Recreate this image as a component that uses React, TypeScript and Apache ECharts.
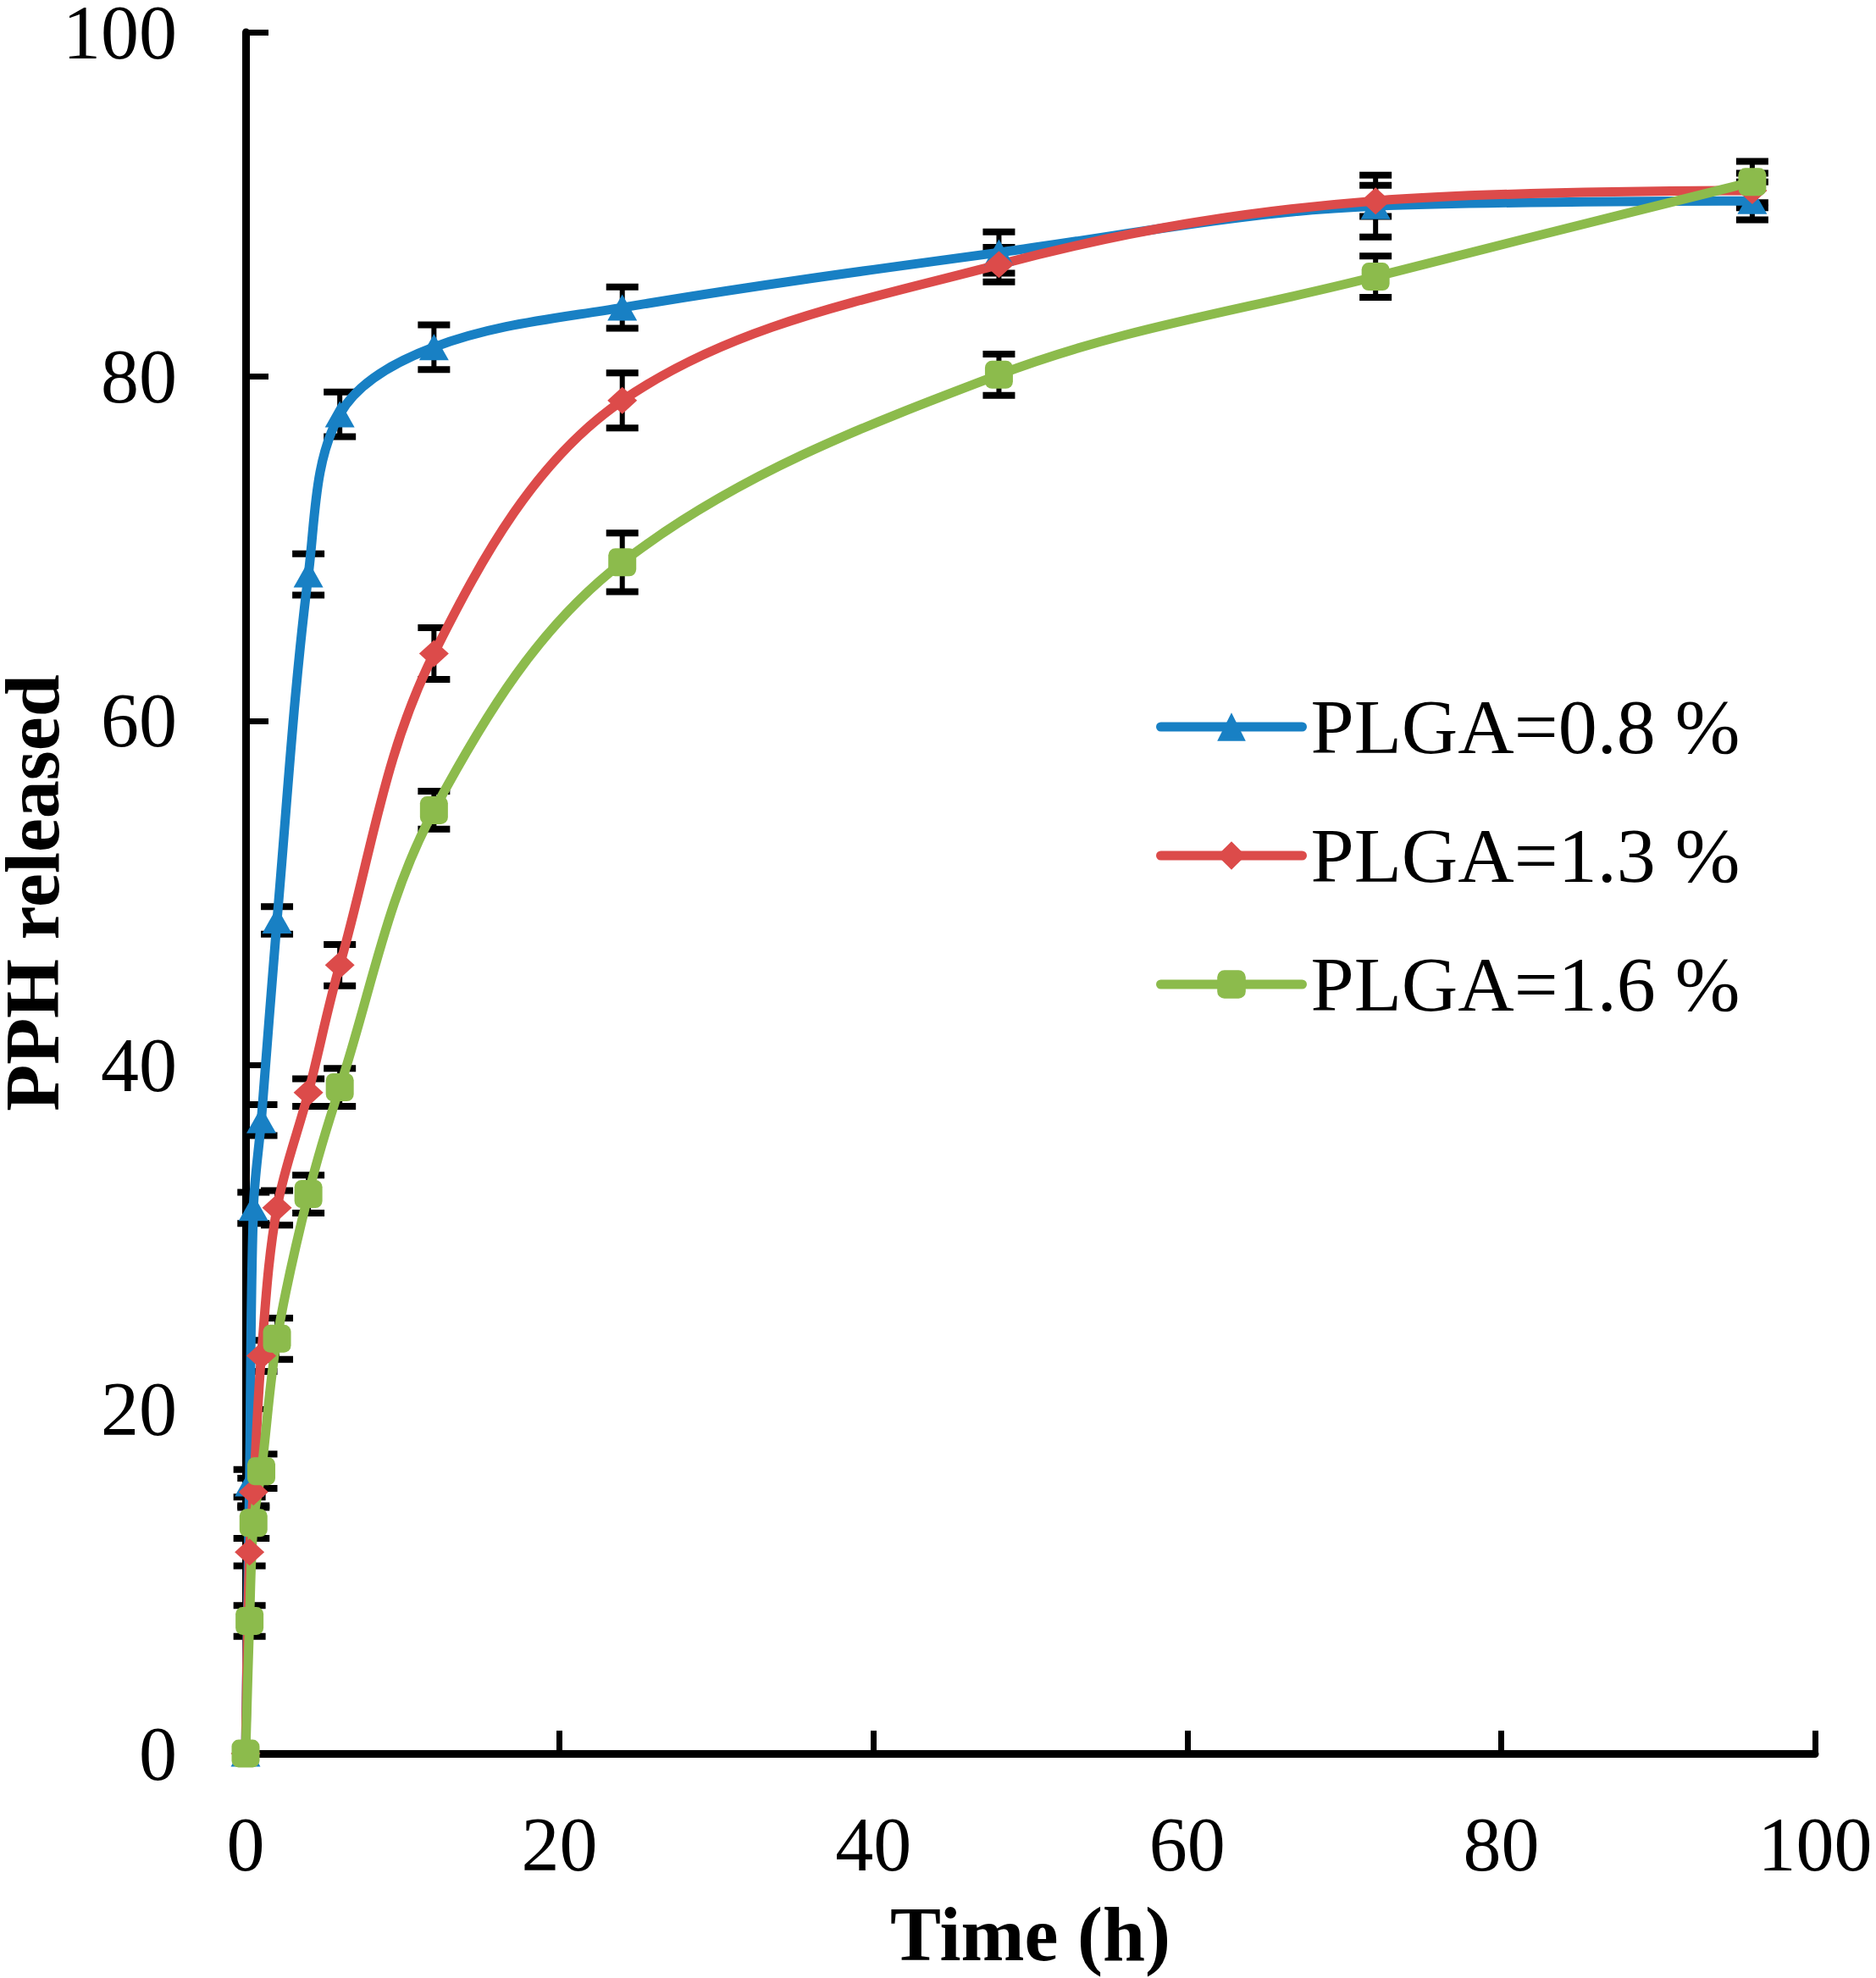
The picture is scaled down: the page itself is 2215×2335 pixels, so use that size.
import React, { useEffect, useRef } from "react";
import * as echarts from "echarts";

const times = [0, 0.25, 0.5, 1, 2, 4, 6, 12, 24, 48, 72, 96];
const seriesNames = ["PLGA=0.8 %", "PLGA=1.3 %", "PLGA=1.6 %"];
const plga08 = [0, 15.7, 31.7, 36.8, 48.4, 68.5, 77.8, 81.7, 84.0, 87.2, 89.9, 90.2];
const plga13 = [0, 11.7, 15.2, 23.1, 31.7, 38.4, 45.8, 63.9, 78.6, 86.5, 90.2, 90.8];
const plga16 = [0, 7.7, 13.4, 16.4, 24.1, 32.5, 38.7, 54.8, 69.2, 80.1, 85.8, 91.3];
const err08 = [0, 0.8, 0.9, 0.9, 0.8, 1.2, 1.3, 1.3, 1.2, 1.2, 1.8, 1.1];
const err13 = [0, 0.8, 0.8, 0.9, 1.0, 0.8, 1.2, 1.5, 1.6, 1.0, 0.9, 1.0];
const err16 = [0, 0.9, 0.9, 1.0, 1.2, 1.1, 1.1, 1.1, 1.7, 1.2, 1.2, 1.2];
const xTicks = [0, 20, 40, 60, 80, 100];
const yTicks = [0, 20, 40, 60, 80, 100];

const colors = ["#1880C4", "#DC4B4A", "#8CBB4C"];
const symbols = ["triangle", "diamond", "roundRect"];
const symbolSizes: any[] = [[35, 31], [35, 32], [33, 33]];

const FONT = "'Liberation Serif', 'Times New Roman', serif";

export default function App() {
  const ref = useRef<HTMLDivElement>(null);
  useEffect(() => {
    if (!ref.current) return;
    const chart = echarts.init(ref.current, undefined, { renderer: "svg" });
    const values = [plga08, plga13, plga16];
    const errs = [err08, err13, err16];

    const errorSeries = values.map((vals, si) => ({
      type: "custom",
      name: "err" + si,
      z: 1,
      silent: true,
      encode: { x: 0, y: [1, 2] },
      data: times.map((t, i) => [t, vals[i] - errs[si][i], vals[i] + errs[si][i]]),
      renderItem: (params: any, api: any) => {
        const x = api.value(0);
        const lo = api.coord([x, api.value(1)]);
        const hi = api.coord([x, api.value(2)]);
        const hw = 19;
        const st = { stroke: "#000", lineWidth: 8 };
        if (api.value(2) - api.value(1) <= 0) return { type: "group", children: [] };
        return {
          type: "group",
          children: [
            { type: "line", shape: { x1: lo[0], y1: lo[1], x2: hi[0], y2: hi[1] }, style: { stroke: "#000", lineWidth: 6 } },
            { type: "line", shape: { x1: lo[0] - hw, y1: lo[1], x2: lo[0] + hw, y2: lo[1] }, style: st },
            { type: "line", shape: { x1: hi[0] - hw, y1: hi[1], x2: hi[0] + hw, y2: hi[1] }, style: st },
          ],
        };
      },
    }));

    const lineSeries = values.map((vals, si) => ({
      type: "line",
      name: seriesNames[si],
      z: 3,
      smooth: 0.35,
      symbol: symbols[si],
      symbolSize: symbolSizes[si],
      showAllSymbol: true,
      data: times.map((t, i) => [t, vals[i]]),
      lineStyle: { color: colors[si], width: 11, cap: "round" },
      itemStyle: { color: colors[si] },
      emphasis: { disabled: true },
    }));

    const axisCommon = {
      type: "value",
      min: 0,
      max: 100,
      interval: 20,
      nameMoveOverlap: false,
      splitLine: { show: false },
      axisLine: { show: true, onZero: false, lineStyle: { color: "#000", width: 9 } },
      axisTick: { show: true, inside: true, length: 27, lineStyle: { color: "#000", width: 7 } },
      nameTextStyle: { fontFamily: FONT, fontSize: 90, fontWeight: "bold", color: "#000" },
    };

    chart.setOption({
      animation: false,
      backgroundColor: "#fff",
      grid: { left: 290, right: 72, top: 38, bottom: 265, containLabel: false, outerBoundsMode: "none" },
      xAxis: {
        ...axisCommon,
        name: "Time (h)",
        nameLocation: "middle",
        nameGap: 168,
        axisLabel: {
          fontFamily: FONT,
          fontSize: 90,
          color: "#000",
          margin: 62,
          formatter: (v: number) => (xTicks.includes(v) ? String(v) : ""),
        },
      },
      yAxis: {
        ...axisCommon,
        name: "PPH released",
        nameLocation: "middle",
        nameGap: 207,
        axisLabel: {
          fontFamily: FONT,
          fontSize: 90,
          color: "#000",
          margin: 81,
          formatter: (v: number) => (yTicks.includes(v) ? String(v) : ""),
        },
      },
      legend: {
        data: seriesNames,
        orient: "vertical",
        left: 1360,
        top: 807,
        itemWidth: 167,
        itemHeight: 42,
        itemGap: 60,
        selectedMode: false,
        lineStyle: { width: 11, cap: "round" },
        textStyle: { fontFamily: FONT, fontSize: 92, color: "#000", padding: [0, 0, 0, 5] },
      },
      series: [...errorSeries, ...lineSeries],
    });
    return () => chart.dispose();
  }, []);
  return (
    <div
      ref={ref}
      style={{ position: "fixed", left: 0, top: 0, width: 2215, height: 2335, background: "#fff" }}
    />
  );
}
